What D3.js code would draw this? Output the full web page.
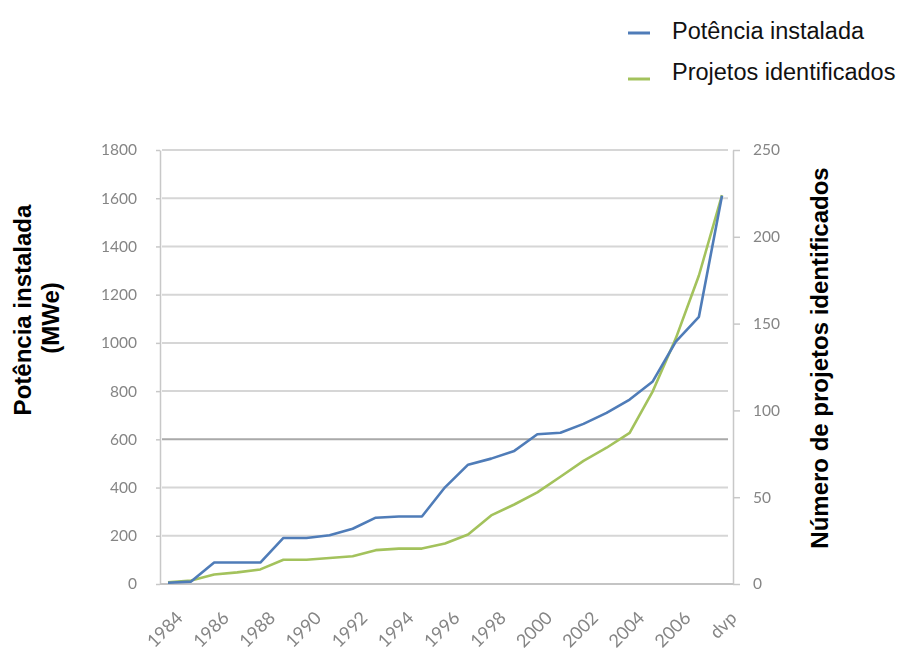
<!DOCTYPE html>
<html>
<head>
<meta charset="utf-8">
<script src="https://cdn.jsdelivr.net/npm/d3@7"></script>
<style>
  body { margin: 0; background: #fff; }
  svg { display: block; }
</style>
</head>
<body>
<svg id="chart" width="903" height="654"></svg>
<script>
// Years on the category axis (the last one is the projected value "dvp")
const categories = ["1984","1985","1986","1987","1988","1989","1990","1991","1992","1993",
  "1994","1995","1996","1997","1998","1999","2000","2001","2002","2003","2004","2005",
  "2006","2007","dvp"];
// Only every other category gets a label
const xTickLabels = ["1984","1986","1988","1990","1992","1994","1996","1998","2000",
  "2002","2004","2006","dvp"];

// Installed capacity (MWe), left axis
const potenciaInstalada = [5, 10, 89, 89, 89, 191, 191, 202, 229, 275, 280, 280, 401,
  495, 520, 552, 621, 627, 664, 710, 765, 840, 1005, 1108, 1610];
// Number of identified projects, right axis
const projetosIdentificados = [1, 2, 5.5, 6.7, 8.4, 14, 14, 15, 16, 19.5, 20.4, 20.4,
  23.3, 28.5, 39.5, 45.8, 52.8, 61.8, 70.9, 78.5, 87.1, 111, 141.5, 177.7, 224];

const leftTicks = [0, 200, 400, 600, 800, 1000, 1200, 1400, 1600, 1800];
const rightTicks = [0, 50, 100, 150, 200, 250];

const seriesNames = ["Potência instalada", "Projetos identificados"];
const seriesColors = ["#4f7cb8", "#a3c25c"];

const svg = d3.select("#chart");

const plotLeft = 160, plotRight = 733, plotTop = 150, plotBottom = 584;

const x = d3.scalePoint().domain(categories).range([168, 722]);
const yL = d3.scaleLinear().domain([0, 1800]).range([plotBottom, plotTop]);
const yR = d3.scaleLinear().domain([0, 250]).range([plotBottom, plotTop]);

// soft rendering of the plot area
const defs = svg.append("defs");
defs.append("filter").attr("id", "soft")
  .append("feGaussianBlur").attr("stdDeviation", 0.6);

const plot = svg.append("g").attr("filter", "url(#soft)");

const tickFont = "Lato, 'Open Sans', sans-serif";

// horizontal gridlines
plot.append("g").selectAll("line")
  .data(leftTicks.filter(d => d > 0))
  .join("line")
  .attr("x1", plotLeft + 2).attr("x2", plotRight - 5)
  .attr("y1", d => yL(d)).attr("y2", d => yL(d))
  .attr("stroke", d => d === 600 ? "#a9a9a9" : "#d6d6d6")
  .attr("stroke-width", 2);

// left axis
const axL = plot.append("g")
  .attr("transform", `translate(${plotLeft},0)`)
  .call(d3.axisLeft(yL).tickValues(leftTicks).tickFormat(d3.format("d"))
    .tickSize(4).tickPadding(19).tickSizeOuter(0));
axL.select(".domain").attr("stroke", "#c8c8c8").attr("stroke-width", 1.5);
axL.selectAll(".tick line").attr("stroke", "#c8c8c8").attr("stroke-width", 1.5);
axL.selectAll(".tick text")
  .attr("fill", "#858585")
  .style("font-family", tickFont)
  .style("font-size", "15.5px");

// right axis
const axR = plot.append("g")
  .attr("transform", `translate(${plotRight},0)`)
  .call(d3.axisRight(yR).tickValues(rightTicks).tickFormat(d3.format("d"))
    .tickSize(7).tickPadding(13).tickSizeOuter(0));
axR.select(".domain").attr("stroke", "#c8c8c8").attr("stroke-width", 1.5);
axR.selectAll(".tick line").attr("stroke", "#c8c8c8").attr("stroke-width", 1.5);
axR.selectAll(".tick text")
  .attr("fill", "#858585")
  .style("font-family", tickFont)
  .style("font-size", "15.5px");

// bottom baseline
plot.append("line")
  .attr("x1", plotLeft).attr("x2", plotRight)
  .attr("y1", plotBottom).attr("y2", plotBottom)
  .attr("stroke", "#c4c4c4").attr("stroke-width", 2);

// category labels, rotated
plot.append("g").selectAll("text")
  .data(xTickLabels)
  .join("text")
  .attr("transform", d => `translate(${x(d) + 16},${plotBottom + 35}) rotate(-45)`)
  .attr("text-anchor", "end")
  .attr("fill", "#858585")
  .style("font-family", tickFont)
  .style("font-size", "18px")
  .text(d => d);

// series lines
const lineL = d3.line().x((d, i) => x(categories[i])).y(d => yL(d));
const lineR = d3.line().x((d, i) => x(categories[i])).y(d => yR(d));

plot.append("path")
  .datum(projetosIdentificados)
  .attr("d", lineR)
  .attr("fill", "none")
  .attr("stroke", seriesColors[1])
  .attr("stroke-width", 2.6)
  .attr("stroke-linejoin", "round");

plot.append("path")
  .datum(potenciaInstalada)
  .attr("d", lineL)
  .attr("fill", "none")
  .attr("stroke", seriesColors[0])
  .attr("stroke-width", 2.6)
  .attr("stroke-linejoin", "round");

// axis titles
const titleFont = "Arial, 'Liberation Sans', sans-serif";
svg.append("text")
  .attr("transform", "translate(31,310) rotate(-90)")
  .attr("text-anchor", "middle")
  .style("font-family", titleFont)
  .style("font-weight", "bold")
  .style("font-size", "24px")
  .attr("fill", "#000")
  .text("Potência instalada");
svg.append("text")
  .attr("transform", "translate(59,318) rotate(-90)")
  .attr("text-anchor", "middle")
  .style("font-family", titleFont)
  .style("font-weight", "bold")
  .style("font-size", "24px")
  .attr("fill", "#000")
  .text("(MWe)");
svg.append("text")
  .attr("transform", "translate(828,358) rotate(-90)")
  .attr("text-anchor", "middle")
  .style("font-family", titleFont)
  .style("font-weight", "bold")
  .style("font-size", "24px")
  .attr("fill", "#000")
  .text("Número de projetos identificados");

// legend
const legendRows = [
  { name: seriesNames[0], color: seriesColors[0], y: 33, ty: 39 },
  { name: seriesNames[1], color: seriesColors[1], y: 79, ty: 80 }
];
const legend = svg.append("g");
legend.selectAll("line")
  .data(legendRows)
  .join("line")
  .attr("x1", 628).attr("x2", 650)
  .attr("y1", d => d.y).attr("y2", d => d.y)
  .attr("stroke", d => d.color)
  .attr("stroke-width", 3);
legend.selectAll("text")
  .data(legendRows)
  .join("text")
  .attr("x", 672).attr("y", d => d.ty)
  .style("font-family", titleFont)
  .style("font-size", "23.5px")
  .attr("fill", "#111")
  .text(d => d.name);
</script>
</body>
</html>
